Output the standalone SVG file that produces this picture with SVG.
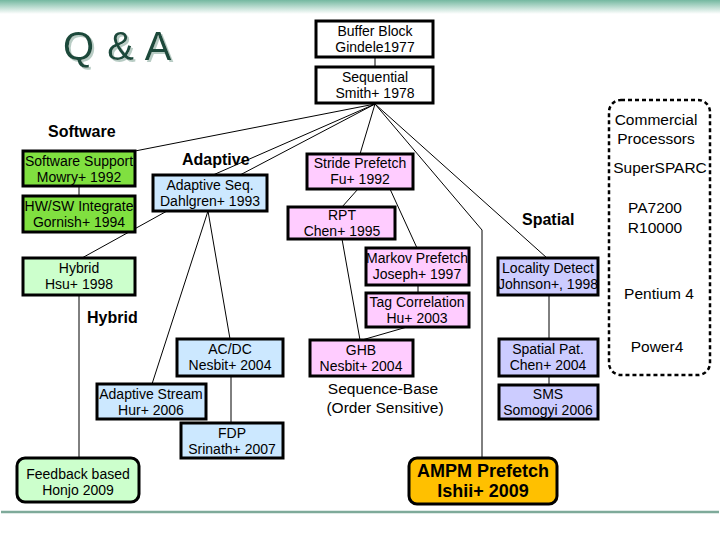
<svg xmlns="http://www.w3.org/2000/svg" width="720" height="540" viewBox="0 0 720 540">
<defs>
<linearGradient id="topbar" x1="0" y1="0" x2="0" y2="1">
<stop offset="0" stop-color="#74b8a0"/>
<stop offset="1" stop-color="#ffffff"/>
</linearGradient>
<filter id="shadow" x="-10%" y="-20%" width="130%" height="150%">
<feDropShadow dx="2" dy="2" stdDeviation="0.6" flood-color="#b8ccc4" flood-opacity="1"/>
</filter>
</defs>
<style>
text{font-family:"Liberation Sans",Arial,sans-serif;fill:#000}
.t{font-size:14px;text-anchor:middle}
.lbl{font-size:16px;font-weight:bold}
.cp{font-size:15.5px;text-anchor:middle}
.box{stroke:#000;stroke-width:3}
.w{fill:#fff}
.g{fill:#80e040}
.lg{fill:#ccffcc}
.b{fill:#cce8ff}
.p{fill:#ffccff}
.v{fill:#ccccff}
.o{fill:#ffc000}
.c line,.c polyline{stroke:#000;stroke-width:1;fill:none}
</style>
<rect x="0" y="0" width="720" height="540" fill="#fff"/>
<rect x="0" y="0" width="720" height="14" fill="url(#topbar)"/>
<line x1="1" y1="512" x2="719" y2="512" stroke="#7eaa9a" stroke-width="2.5"/>
<g id="title">
<text x="63" y="60" font-size="40" style="fill:#1d4a3b" letter-spacing="1" filter="url(#shadow)">Q &amp; A</text>
</g>
<g class="c" id="connectors">
<line x1="375" y1="57" x2="375" y2="66"/>
<line x1="375" y1="104" x2="135" y2="151"/>
<line x1="375" y1="104" x2="213" y2="175"/>
<line x1="375" y1="104" x2="240" y2="175"/>
<line x1="375" y1="104" x2="360" y2="154"/>
<polyline points="375,104 482,230 482,458"/>
<line x1="375" y1="104" x2="547" y2="258"/>
<line x1="79" y1="186" x2="79" y2="196"/>
<line x1="167" y1="211" x2="82" y2="258"/>
<line x1="79" y1="295" x2="79" y2="458"/>
<line x1="208" y1="211" x2="152" y2="384"/>
<line x1="208" y1="211" x2="230" y2="339"/>
<line x1="231" y1="376" x2="231" y2="423"/>
<line x1="358" y1="189" x2="342" y2="207"/>
<line x1="390" y1="189" x2="417" y2="248"/>
<line x1="342" y1="239" x2="360" y2="340"/>
<line x1="418" y1="285" x2="418" y2="293"/>
<line x1="407" y1="327" x2="362" y2="340"/>
<line x1="549" y1="295" x2="549" y2="339"/>
<line x1="549" y1="376" x2="549" y2="385"/>
</g>
<g id="buffer-block"><rect class="box w" x="316" y="21" width="117" height="36"/><text class="t" x="375" y="36">Buffer Block</text><text class="t" x="375" y="52">Gindele1977</text></g>
<g id="sequential"><rect class="box w" x="316" y="67" width="117" height="36"/><text class="t" x="375" y="82">Sequential</text><text class="t" x="375" y="98">Smith+ 1978</text></g>
<g id="software-label"><text class="lbl" x="48" y="137">Software</text></g>
<g id="adaptive-label"><text class="lbl" x="182" y="165">Adaptive</text></g>
<g id="hybrid-label"><text class="lbl" x="87" y="323">Hybrid</text></g>
<g id="spatial-label"><text class="lbl" x="522" y="225">Spatial</text></g>
<g id="software-support"><rect class="box g" x="23" y="151" width="112" height="35"/><text class="t" x="79" y="166">Software Support</text><text class="t" x="79" y="182">Mowry+ 1992</text></g>
<g id="hwsw-integrate"><rect class="box g" x="23" y="196" width="112" height="36"/><text class="t" x="79" y="211">HW/SW Integrate</text><text class="t" x="79" y="227">Gornish+ 1994</text></g>
<g id="hybrid-hsu"><rect class="box lg" x="23" y="258" width="112" height="37"/><text class="t" x="79" y="273">Hybrid</text><text class="t" x="79" y="289">Hsu+ 1998</text></g>
<g id="feedback"><rect class="box lg" x="17" y="458" width="122" height="44" rx="8"/><text class="t" x="78" y="479">Feedback based</text><text class="t" x="78" y="495">Honjo 2009</text></g>
<g id="adaptive-seq"><rect class="box b" x="153" y="175" width="114" height="36"/><text class="t" x="210" y="190">Adaptive Seq.</text><text class="t" x="210" y="206">Dahlgren+ 1993</text></g>
<g id="acdc"><rect class="box b" x="177" y="339" width="106" height="37"/><text class="t" x="230" y="354">AC/DC</text><text class="t" x="230" y="370">Nesbit+ 2004</text></g>
<g id="adaptive-stream"><rect class="box b" x="97" y="384" width="109" height="35"/><text class="t" x="151" y="399">Adaptive Stream</text><text class="t" x="151" y="415">Hur+ 2006</text></g>
<g id="fdp"><rect class="box b" x="181" y="423" width="102" height="35"/><text class="t" x="232" y="438">FDP</text><text class="t" x="232" y="454">Srinath+ 2007</text></g>
<g id="stride"><rect class="box p" x="307" y="154" width="106" height="35"/><text class="t" x="360" y="168">Stride Prefetch</text><text class="t" x="360" y="184">Fu+ 1992</text></g>
<g id="rpt"><rect class="box p" x="288" y="207" width="107" height="32"/><text class="t" x="342" y="220">RPT</text><text class="t" x="342" y="236">Chen+ 1995</text></g>
<g id="markov"><rect class="box p" x="366" y="248" width="103" height="37"/><text class="t" x="417" y="263">Markov Prefetch</text><text class="t" x="417" y="279">Joseph+ 1997</text></g>
<g id="tag-correlation"><rect class="box p" x="366" y="293" width="103" height="34"/><text class="t" x="417" y="307">Tag Correlation</text><text class="t" x="417" y="323">Hu+ 2003</text></g>
<g id="ghb"><rect class="box p" x="310" y="340" width="103" height="36"/><text class="t" x="361" y="355">GHB</text><text class="t" x="361" y="371">Nesbit+ 2004</text></g>
<g id="sequence-base"><text class="cp" x="383" y="394">Sequence-Base</text><text class="cp" x="385" y="413">(Order Sensitive)</text></g>
<g id="locality"><rect class="box v" x="498" y="258" width="100" height="37"/><text class="t" x="548" y="273">Locality Detect</text><text class="t" x="548" y="289">Johnson+, 1998</text></g>
<g id="spatial-pat"><rect class="box v" x="499" y="339" width="99" height="37"/><text class="t" x="548" y="354">Spatial Pat.</text><text class="t" x="548" y="370">Chen+ 2004</text></g>
<g id="sms"><rect class="box v" x="499" y="385" width="99" height="34"/><text class="t" x="548" y="399">SMS</text><text class="t" x="548" y="415">Somogyi 2006</text></g>
<g id="ampm"><rect class="box o" x="409" y="458" width="148" height="46" rx="8"/><text x="483" y="477" font-size="18" font-weight="bold" text-anchor="middle">AMPM Prefetch</text><text x="483" y="497" font-size="18" font-weight="bold" text-anchor="middle">Ishii+ 2009</text></g>
<g id="commercial">
<rect x="609" y="100" width="101" height="275" rx="12" fill="none" stroke="#000" stroke-width="2.5" stroke-dasharray="4,3"/>
<text class="cp" x="656" y="125">Commercial</text>
<text class="cp" x="656" y="144">Processors</text>
<text class="cp" x="660" y="173">SuperSPARC</text>
<text class="cp" x="655" y="213">PA7200</text>
<text class="cp" x="655" y="233">R10000</text>
<text class="cp" x="659" y="299">Pentium 4</text>
<text class="cp" x="657" y="352">Power4</text>
</g>
</svg>
